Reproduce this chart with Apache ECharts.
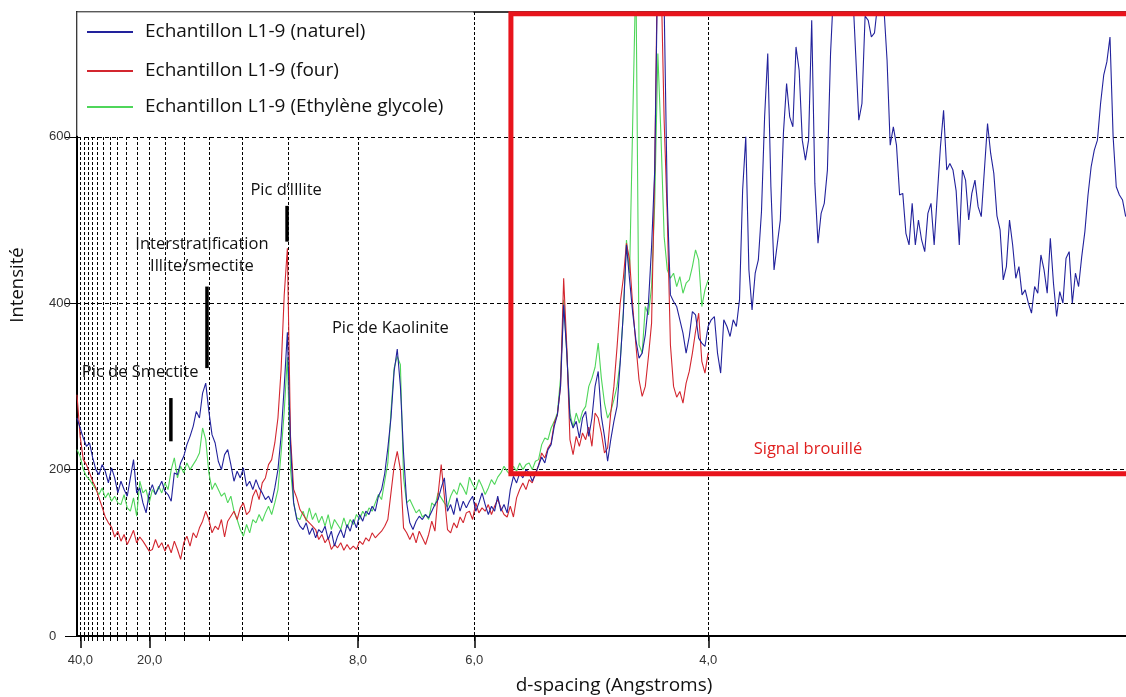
<!DOCTYPE html>
<html><head><meta charset="utf-8">
<script src="https://cdn.jsdelivr.net/npm/echarts@6/dist/echarts.min.js"></script>
<style>html,body{margin:0;padding:0;background:#fff}#c{width:1126px;height:697px}</style>
</head><body><div id="c"></div>
<script>
// Cu K-alpha wavelength used to convert 2-theta <-> d-spacing
const LAMBDA = 1.5406;
// sampling grid (2-theta, degrees)
const twoThetaStart = 2.1;
const twoThetaStep = 0.1;

const seriesNames = ['Echantillon L1-9 (naturel)', 'Echantillon L1-9 (four)', 'Echantillon L1-9 (Ethylène glycole)'];
const seriesColors = ['#22229c', '#d3262f', '#4fd65a'];

// Intensity, sample "naturel"
const naturel = [
262,250,238,228,232,214,200,194,206,198,
184,202,190,172,186,176,168,190,212,172,
178,160,148,172,182,170,178,186,174,170,
162,196,194,208,216,230,240,252,270,262,
292,304,270,242,232,210,200,218,224,206,
186,198,190,202,180,186,176,188,178,172,
164,168,160,178,200,240,300,365,230,160,
140,132,128,136,122,130,118,128,124,132,
116,126,108,120,128,118,134,126,140,130,
146,138,150,146,156,150,168,176,195,226,
262,318,345,300,220,160,136,128,138,144,
140,146,142,150,158,164,178,190,150,158,
146,166,150,162,154,162,168,150,160,172,
158,146,156,150,168,150,158,148,176,192,
184,196,190,200,196,186,194,205,215,208,
224,230,252,266,300,398,340,262,250,258,
238,262,270,240,262,300,318,264,240,210,
236,258,276,328,388,470,428,388,356,334,
340,362,400,468,560,820,900,760,524,410,
402,396,380,364,340,360,390,386,358,352,
348,372,380,384,340,316,380,372,360,380,
372,404,536,600,440,392,436,452,510,624,
700,540,440,470,500,605,664,624,612,708,
680,596,572,596,740,544,472,508,520,560,
700,780,800,820,800,790,800,780,700,620,
640,745,740,720,725,760,770,755,692,590,
612,590,530,532,484,470,520,470,500,476,
462,508,520,470,530,588,632,560,568,560,
535,470,560,548,500,532,548,516,504,560,
616,580,556,505,488,428,444,500,470,430,
444,410,416,400,388,420,412,458,440,412,
478,424,384,414,400,454,462,400,436,420,
456,486,530,564,584,596,640,674,690,720,
600,540,530,524,504
];

// Intensity, sample "four"
const four = [
290,240,212,206,196,186,178,166,155,143,
136,131,119,126,114,122,110,118,127,112,
119,114,108,102,104,116,106,112,102,110,
100,114,104,92,112,120,108,124,118,130,
138,150,140,124,132,128,140,119,138,144,
150,140,154,160,146,150,168,176,164,184,
190,206,212,232,262,320,410,466,240,176,
166,152,146,140,136,132,128,116,122,112,
118,104,110,106,112,103,110,104,108,104,
114,110,118,114,124,118,122,126,132,140,
172,204,222,200,130,124,116,124,112,126,
118,110,122,138,126,170,206,168,128,124,
136,130,143,136,148,150,140,160,148,154,
150,158,146,156,164,154,146,143,156,143,
166,176,184,176,188,184,196,205,220,214,
226,232,256,266,300,430,347,236,218,240,
228,244,236,251,228,268,262,244,220,226,
268,300,347,400,430,472,452,396,350,308,
288,300,336,376,560,850,800,620,504,350,
300,287,294,280,304,318,340,366,388,330,
316,340
];

// Intensity, sample "Ethylène glycole"
const glycol = [
224,216,200,192,188,182,176,170,178,166,
172,162,168,160,158,170,154,150,166,144,
186,172,176,160,176,170,180,172,184,176,
200,214,190,204,196,208,200,206,212,220,
250,236,196,176,184,176,168,172,160,168,
150,140,128,120,134,124,140,136,146,138,
148,156,146,160,176,220,270,335,200,160,
142,140,150,138,154,140,148,136,144,132,
146,128,140,134,128,142,130,140,134,146,
140,150,144,154,150,160,170,164,186,208,
270,322,336,326,190,160,164,156,148,152,
143,146,140,160,156,172,166,160,155,168,
176,170,184,178,170,191,182,176,188,180,
170,178,188,182,191,196,204,198,194,204,
198,208,200,206,208,200,210,212,230,238,
236,250,258,268,310,404,340,268,251,268,
256,270,276,300,310,323,352,310,280,262,
270,284,300,330,388,476,436,620,800,350,
340,396,386,420,520,700,600,480,440,430,
436,420,432,412,424,428,444,464,452,396,
416,428
];

// d-spacing (Angstroms) of the vertical grid lines and of the labelled ticks
const dGridLines = [40,38,36,34,32,30,28,26,24,22,20,18,16,14,12,10,8,6,4];
const dTickLabels = [40,20,8,6,4];
const yTickValues = [0,200,400,600];
const xMin = 2.1, xMax = 35.51, yMin = 0, yMax = 750;

// annotations in data coordinates [2theta, intensity]
const peakLabels = [
  {text: 'Pic d\u2019Illite', at: [8.76, 536]},
  {text: 'Interstratification\nIllite/smectite', at: [6.08, 457]},
  {text: 'Pic de Smectite', at: [4.11, 317]},
  {text: 'Pic de Kaolinite', at: [12.08, 370]}
];
const peakBars = [[8.79, 517, 474], [6.24, 420, 322], [5.09, 286, 234]];
const noisyZone = {from: 15.92, top: 748, bottom: 195, label: 'Signal brouillé', labelAt: [25.38, 224]};

function tt(d) { return 2 * Math.asin(LAMBDA / (2 * d)) * 180 / Math.PI; }
function dOf(t) { return LAMBDA / (2 * Math.sin(t * Math.PI / 360)); }
function toPairs(arr) { return arr.map((v, i) => [+(twoThetaStart + i * twoThetaStep).toFixed(3), v]); }

const gridTT = dGridLines.map(tt);
const majorTT = dTickLabels.map(tt);
const FONT = '"Open Sans", "DejaVu Sans", sans-serif';

const chart = echarts.init(document.getElementById('c'));
const lineSeries = (name, color, data) => ({
  name, type: 'line', data: toPairs(data), showSymbol: false, symbol: 'none',
  lineStyle: {color, width: 1.1}, itemStyle: {color}, clip: true, animation: false, silent: true
});

chart.setOption({
  animation: false,
  backgroundColor: '#fff',
  grid: {left: 77, right: 0, top: 12, bottom: 61, containLabel: false, outerBoundsMode: 'none'},
  xAxis: [
    {type: 'value', min: xMin, max: xMax, position: 'bottom',
     axisLine: {show: true, onZero: false, lineStyle: {color: '#000', width: 2}},
     axisTick: {show: true, customValues: gridTT, length: 5, lineStyle: {color: '#000', width: 1}},
     axisLabel: {show: false},
     splitLine: {show: true, lineStyle: {color: '#000', width: 1, type: [3, 2]}}},
    {type: 'value', min: xMin, max: xMax, position: 'bottom',
     axisLine: {show: false, onZero: false},
     axisTick: {show: true, customValues: majorTT, length: 12, lineStyle: {color: '#000', width: 1.5}},
     axisLabel: {show: true, customValues: majorTT, margin: 18, color: '#333', fontSize: 13,
       fontFamily: 'Liberation Sans, Arial, sans-serif',
       formatter: v => dOf(v).toFixed(1).replace('.', ',')},
     splitLine: {show: false}},
    {type: 'value', min: xMin, max: xMax, position: 'top',
     axisLine: {show: true, onZero: false, lineStyle: {color: '#000', width: 1.5}},
     axisTick: {show: false}, axisLabel: {show: false}, splitLine: {show: false}}
  ],
  yAxis: {type: 'value', min: yMin, max: yMax,
    axisLine: {show: true, lineStyle: {color: '#000', width: 2}},
    axisTick: {show: true, customValues: yTickValues, length: 12, lineStyle: {color: '#000', width: 1}},
    axisLabel: {customValues: yTickValues, align: 'left', margin: 28, color: '#333', fontSize: 13,
      fontFamily: 'Liberation Sans, Arial, sans-serif'},
    splitLine: {show: true, lineStyle: {color: '#000', width: 1, type: [4, 3]}}},
  series: [
    lineSeries(seriesNames[2], seriesColors[2], glycol),
    lineSeries(seriesNames[1], seriesColors[1], four),
    lineSeries(seriesNames[0], seriesColors[0], naturel)
  ]
});

const P = (x, y) => chart.convertToPixel({gridIndex: 0}, [x, y]);
const g = [];
const txt = (x, y, text, size, fill, extra) => Object.assign({type: 'text', z: 12, x, y,
  style: {text, fill, font: size + 'px ' + FONT, textAlign: 'center', textVerticalAlign: 'middle', align: 'center', verticalAlign: 'middle'}}, extra || {});
// legend box
const boxTL = P(xMin, yMax), boxBR = P(tt(6), 600);
g.push({type: 'rect', z: 10, shape: {x: boxTL[0], y: boxTL[1], width: boxBR[0] - boxTL[0] - 1, height: boxBR[1] - boxTL[1] - 1}, style: {fill: '#fff'}});
g.push({type: 'polyline', z: 11, shape: {points: [[boxTL[0], boxBR[1] - 1], [boxTL[0], boxTL[1]], [boxBR[0] - 1, boxTL[1]]]}, style: {stroke: '#777', lineWidth: 1, fill: null}});
const legendRows = [32, 71, 107];
seriesNames.forEach((n, i) => {
  g.push({type: 'line', z: 12, shape: {x1: 87, y1: legendRows[i], x2: 133, y2: legendRows[i]}, style: {stroke: seriesColors[i], lineWidth: 2}});
  g.push({type: 'text', z: 12, x: 145, y: legendRows[i], style: {text: n, fill: '#111', font: '19px ' + FONT, textAlign: 'left', textVerticalAlign: 'middle', align: 'left', verticalAlign: 'middle'}});
});
// peak annotations
peakLabels.forEach(a => {
  const p = P(a.at[0], a.at[1]);
  const t = txt(p[0], p[1], a.text, 16.5, '#111');
  t.style.lineHeight = 22;
  g.push(t);
});
peakBars.forEach(b => {
  const p1 = P(b[0], b[1]), p2 = P(b[0], b[2]);
  g.push({type: 'line', z: 12, shape: {x1: p1[0], y1: p1[1], x2: p2[0], y2: p2[1]}, style: {stroke: '#000', lineWidth: 3.5}});
});
// noisy-signal frame
const zTL = P(noisyZone.from, noisyZone.top), zBL = P(noisyZone.from, noisyZone.bottom);
g.push({type: 'rect', z: 12, shape: {x: zTL[0], y: zTL[1], width: 1300 - zTL[0], height: zBL[1] - zTL[1]}, style: {fill: null, stroke: '#e8141c', lineWidth: 5}});
const zl = P(noisyZone.labelAt[0], noisyZone.labelAt[1]);
g.push(txt(zl[0], zl[1], noisyZone.label, 16.5, '#e0201f'));
// axis titles
g.push(txt(614, 686, 'd-spacing (Angstroms)', 19, '#111'));
g.push(txt(18, 285, 'Intensité', 18.5, '#111', {rotation: Math.PI / 2}));
chart.setOption({graphic: {elements: g}});
</script>
</body></html>
